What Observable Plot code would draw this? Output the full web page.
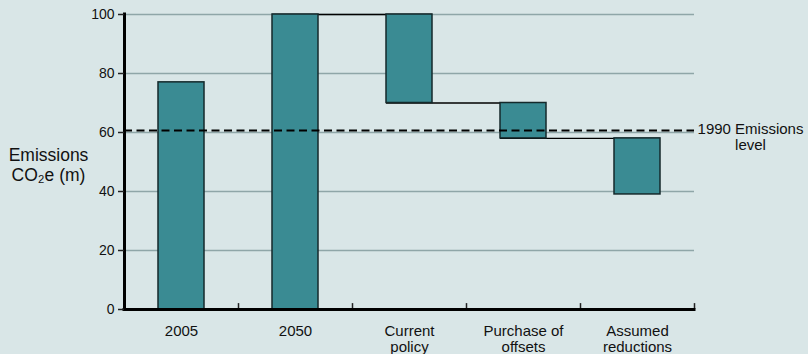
<!DOCTYPE html>
<html><head><meta charset="utf-8">
<script src="https://cdn.jsdelivr.net/npm/d3@7"></script>
<script src="https://cdn.jsdelivr.net/npm/@observablehq/plot@0.6"></script>
<style>
html,body{margin:0;padding:0;background:#d9e6e7;}
</style></head><body><div id="chart"></div>
<script>
const categories = ["2005", "2050", "Current\npolicy", "Purchase of\noffsets", "Assumed\nreductions"];
const barStart = [0, 0, 100, 70, 58];
const barEnd = [77, 100, 70, 58, 39];
const yTicks = [0, 20, 40, 60, 80, 100];
const level1990 = 60.7;
const levelLabel = "1990 Emissions\nlevel";
const yLabel = "Emissions\nCO₂e (m)";

const bars = categories.map((c, i) => ({cat: c, y1: barStart[i], y2: barEnd[i]}));
// waterfall connectors: from the 2050 bar onwards
const connectors = categories.slice(1, -1).map((c, i) => ({from: c, to: categories[i + 2], y: barEnd[i + 1]}));

const W = 808, H = 354, ml = 124, mr = 114, mt = 14, mb = 45;
const step = (W - ml - mr) / categories.length;

const chart = Plot.plot({
  width: W, height: H,
  marginLeft: ml, marginRight: mr, marginTop: mt, marginBottom: mb,
  style: {background: "#d9e6e7", fontFamily: "'Liberation Sans', Arial, sans-serif", fontSize: "14px", color: "#111", overflow: "visible"},
  x: {domain: categories, paddingInner: 0.6, paddingOuter: 0.3, axis: null},
  y: {domain: [0, 100], axis: null},
  marks: [
    Plot.ruleY(yTicks.filter(d => d > 0), {stroke: "#8fa6a8", strokeWidth: 1.6}),
    Plot.ruleY(connectors, {x1: "from", x2: "to", y: "y", stroke: "#000", strokeWidth: 1.4}),
    Plot.barY(bars, {x: "cat", y1: "y1", y2: "y2", fill: "#3a8b93", stroke: "#14292b", strokeWidth: 1.5}),
    Plot.ruleY([level1990], {stroke: "#000", strokeWidth: 2, strokeDasharray: "8,4.5"}),
    Plot.ruleX(categories, {x: d => d, y1: 0, y2: 2, dx: step / 2, stroke: "#222", strokeWidth: 1.5}),
    Plot.ruleY([0], {stroke: "#000", strokeWidth: 3, strokeLinecap: "square"}),
    Plot.ruleX([categories[0]], {x: d => d, y1: 0, y2: 100, dx: -step / 2, stroke: "#000", strokeWidth: 3, strokeLinecap: "square"}),
    Plot.axisY({ticks: yTicks, tickSize: 6, tickPadding: 4, fontSize: 14, stroke: "#222", strokeWidth: 1.5, label: null}),
    Plot.text(categories, {x: d => d, frameAnchor: "bottom", lineAnchor: "top", dy: 14.5, lineHeight: 1.11, fontSize: 15, fill: "#111"}),
    Plot.text([levelLabel], {y: level1990, frameAnchor: "right", textAnchor: "middle", lineAnchor: "top", dx: 56, dy: -8, lineHeight: 1.07, fontSize: 15, fill: "#111"}),
    Plot.text([yLabel], {frameAnchor: "left", textAnchor: "middle", lineAnchor: "top", dx: -76, dy: -15, lineHeight: 1.15, fontSize: 17.5, fill: "#111"})
  ]
});
document.getElementById("chart").appendChild(chart);
</script>
</body></html>
